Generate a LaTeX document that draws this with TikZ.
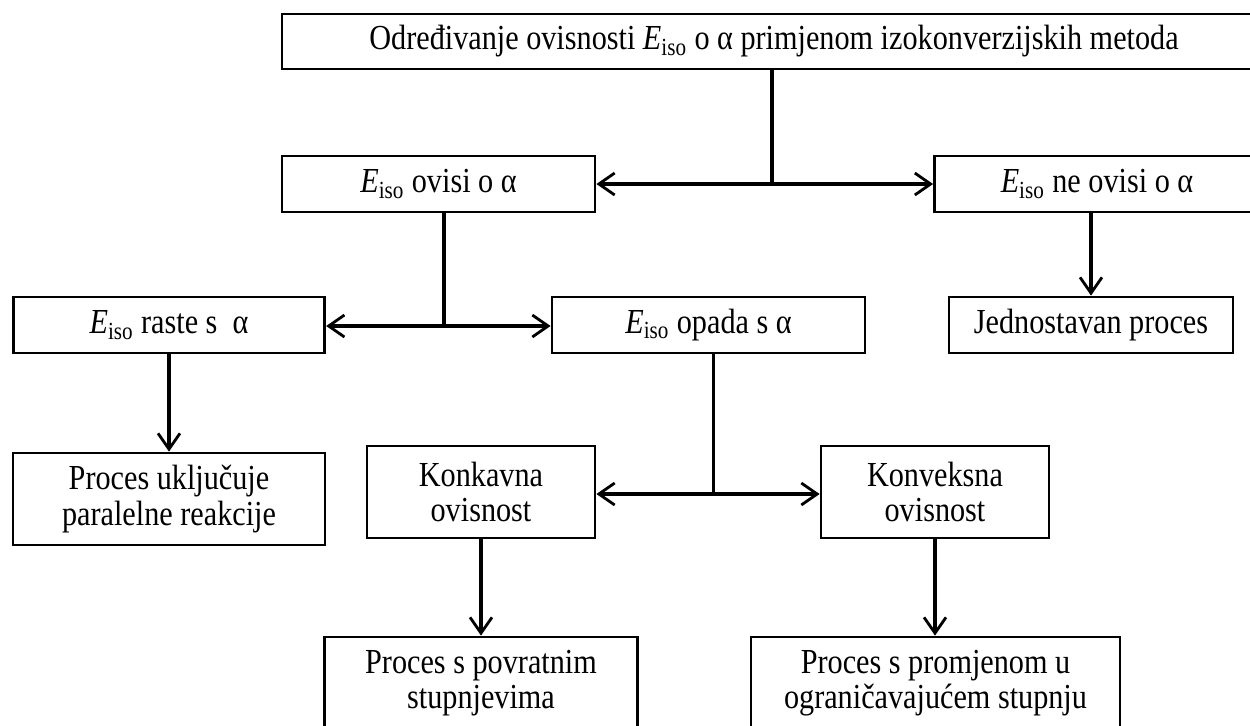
\documentclass[tikz,border=0pt]{standalone}
\usepackage{fontspec}
\setmainfont[FakeStretch=0.86]{Liberation Serif}
\usepackage{tikz}
\usetikzlibrary{arrows.meta}
\newcommand{\Eiso}{\textit{E}\textsubscript{iso}}

\begin{document}
\begin{tikzpicture}[x=0.02cm,y=-0.02cm,
    box/.style={draw,line width=1.6pt,align=center,inner sep=0pt,
      font=\fontsize{20}{20}\selectfont},
    link/.style={line width=1.8pt},
    arr/.style={link,-{Straight Barb[length=9pt,width=12.5pt,line width=1.6pt]}}]
  \useasboundingbox (0,0) rectangle (1250,725);
  \clip (0,0) rectangle (1250,725);

  %top level
  \node[box,minimum width=984*0.02cm,minimum height=55*0.02cm] (metoda) at (774,41.5)
    {Određivanje ovisnosti \Eiso{} o α primjenom izokonverzijskih metoda};

  %second level
  \node[box,minimum width=313*0.02cm,minimum height=56*0.02cm] (ovisi) at (438.5,184)
    {\Eiso{} ovisi o α};
  \node[box,minimum width=325*0.02cm,minimum height=56*0.02cm] (neovisi) at (1097,184)
    {\Eiso{} ne ovisi o α};

  %third level
  \node[box,minimum width=311.5*0.02cm,minimum height=56*0.02cm] (raste) at (169,325)
    {\Eiso{} raste s~~α};
  \node[box,minimum width=313*0.02cm,minimum height=56*0.02cm] (opada) at (708.5,325)
    {\Eiso{} opada s α};
  \node[box,minimum width=284*0.02cm,minimum height=56*0.02cm] (jedno) at (1091,325)
    {Jednostavan proces};

  %fourth level
  \node[box,minimum width=312*0.02cm,minimum height=92*0.02cm] (paralel) at (169,499)
    {Proces uključuje\\paralelne reakcije};
  \node[box,minimum width=228*0.02cm,minimum height=92*0.02cm] (konkav) at (481,492)
    {Konkavna\\ovisnost};
  \node[box,minimum width=228*0.02cm,minimum height=92*0.02cm] (konveks) at (935,492)
    {Konveksna\\ovisnost};

  %bottom level
  \node[box,minimum width=312.5*0.02cm,minimum height=92*0.02cm] (povrat) at (481,683)
    {Proces s povratnim\\stupnjevima};
  \node[box,minimum width=369*0.02cm,minimum height=92*0.02cm] (ogran) at (935.5,683)
    {Proces s promjenom u\\ograničavajućem stupnju};

  %junctions
  \coordinate (j1) at (772,184);
  \coordinate (j2) at (444,326);
  \coordinate (j3) at (713.5,494);

  %connectors
  \draw[link] (metoda.south -| j1) -- (j1);
  \draw[arr] (j1) -- (j1 -| ovisi.east);
  \draw[arr] (j1) -- (j1 -| neovisi.west);
  \draw[link] (ovisi.south -| j2) -- (j2);
  \draw[arr] (j2) -- (j2 -| raste.east);
  \draw[arr] (j2) -- (j2 -| opada.west);
  \draw[arr] (neovisi.south -| jedno.north) -- (jedno.north);
  \draw[arr] (raste.south) -- (paralel.north);
  \draw[link] (opada.south -| j3) -- (j3);
  \draw[arr] (j3) -- (j3 -| konkav.east);
  \draw[arr] (j3) -- (j3 -| konveks.west);
  \draw[arr] (konkav.south) -- (konkav.south |- povrat.north);
  \draw[arr] (konveks.south) -- (konveks.south |- ogran.north);
\end{tikzpicture}
\end{document}
